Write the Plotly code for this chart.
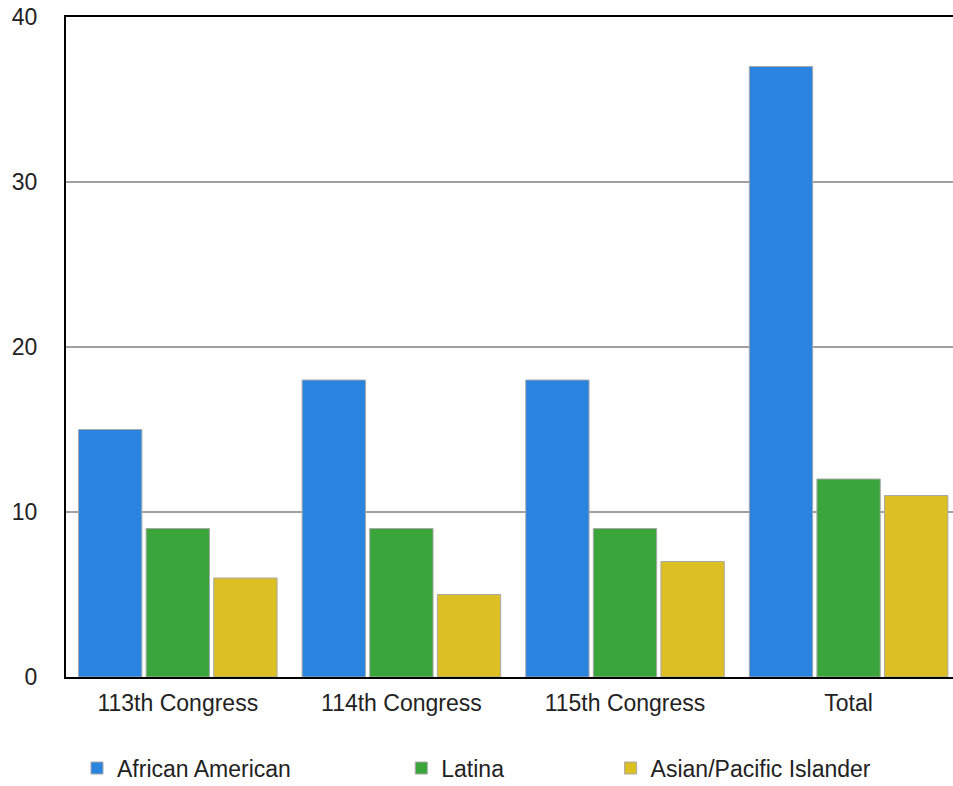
import plotly.graph_objects as go

# Women of colour in Congress, by group
categories = ["113th Congress", "114th Congress", "115th Congress", "Total"]
african_american = [15, 18, 18, 37]
latina = [9, 9, 9, 12]
asian_pacific = [6, 5, 7, 11]

series_names = ["African American", "Latina", "Asian/Pacific Islander"]
series_values = [african_american, latina, asian_pacific]
series_colors = ["#2b83e0", "#3aa53a", "#dcbf22"]
legend_ids = ["legend", "legend2", "legend3"]

fig = go.Figure()
for name, vals, color, lg in zip(series_names, series_values, series_colors, legend_ids):
    fig.add_trace(go.Bar(
        x=categories,
        y=vals,
        name=name,
        legend=lg,
        showlegend=True,
        marker=dict(color=color, line=dict(color="#a8a8a8", width=1)),
    ))

font_family = "Liberation Sans, Arial, sans-serif"
legend_common = dict(
    orientation="h",
    yref="paper",
    y=-0.138,
    yanchor="middle",
    xanchor="left",
    bgcolor="rgba(0,0,0,0)",
    font=dict(family=font_family, size=23, color="#222222"),
)

fig.update_layout(
    width=953,
    height=786,
    margin=dict(l=66, r=0, t=17, b=109, autoexpand=False),
    paper_bgcolor="white",
    plot_bgcolor="white",
    barmode="group",
    bargap=0.093,
    bargroupgap=0.063,
    showlegend=True,
    font=dict(family=font_family, size=23, color="#222222"),
    legend=dict(x=0.0124, **legend_common),
    legend2=dict(x=0.378, **legend_common),
    legend3=dict(x=0.614, **legend_common),
)

fig.update_xaxes(
    range=[-0.5, 3.467],
    showline=True,
    mirror=True,
    linecolor="black",
    linewidth=2,
    showgrid=False,
    ticks="",
    ticklabelstandoff=4,
    tickfont=dict(family=font_family, size=23, color="#222222"),
)

fig.update_yaxes(
    range=[0, 40],
    dtick=10,
    showline=True,
    mirror=False,
    linecolor="black",
    linewidth=2,
    showgrid=True,
    gridcolor="#a0a0a0",
    gridwidth=2,
    zeroline=False,
    ticks="",
    ticklabelstandoff=22,
    tickfont=dict(family=font_family, size=23, color="#222222"),
)

fig.write_html("out.html")
